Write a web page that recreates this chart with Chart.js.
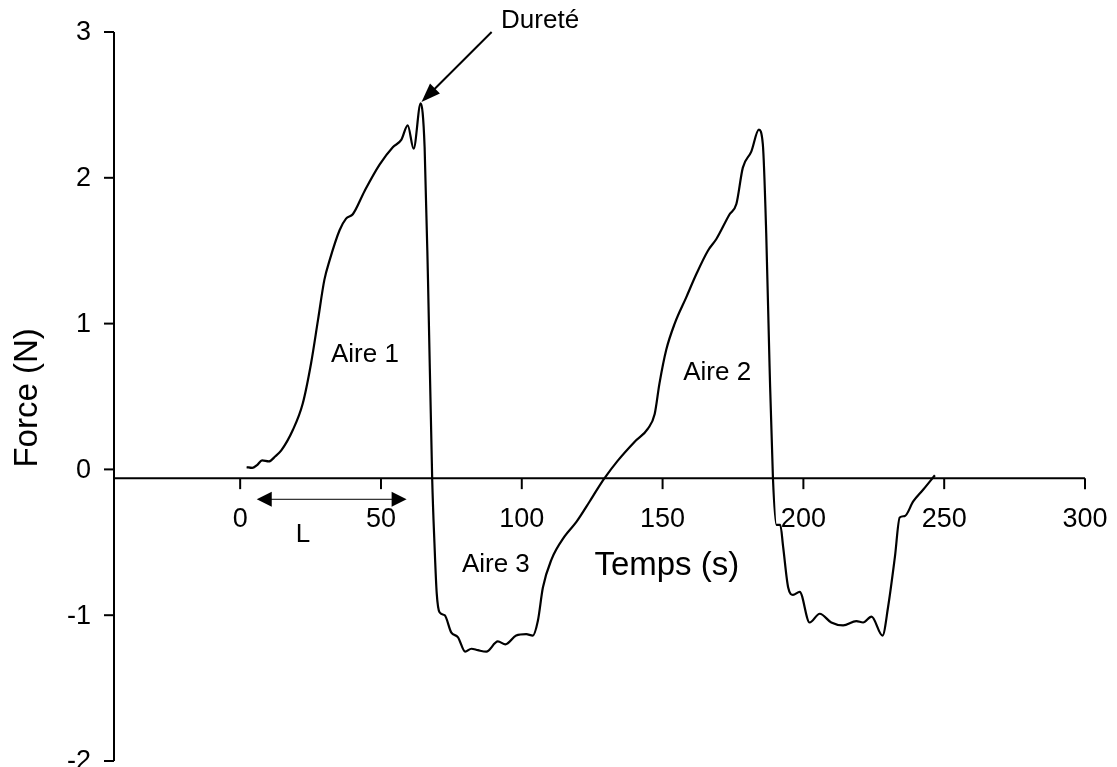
<!DOCTYPE html>
<html>
<head>
<meta charset="utf-8">
<script src="https://cdn.jsdelivr.net/npm/chart.js@4"></script>
<style>
  html, body { margin: 0; padding: 0; background: #fff; }
  #wrap { width: 1117px; height: 767px; }
</style>
</head>
<body>
<div id="wrap"><canvas id="chart"></canvas></div>
<script>
// courbe force / temps
const temps = [2.3, 4.3, 6, 7.8, 10.2, 12.5, 14.6, 18.7, 22.2, 25.2, 27.6, 29.9, 31.7, 35.3, 37.6, 40.0,
  44.2, 49.5, 54.2, 57.2, 59.5, 61.6, 64.1, 65.5, 66.7, 68.2, 69.0, 69.8, 70.8, 72.6, 75.0, 77.3,
  79.9, 82.1, 84.4, 87.4, 91.5, 94.2, 98.0, 101.6, 103.9, 105.7, 107.5, 110.5, 115.2, 119.4, 124.1,
  127.0, 129.4, 134.1, 140.1, 144.8, 147.2, 148.9, 151.3, 154.3, 158.4, 162, 166.1, 169.1, 173.8,
  176.2, 178.5, 181.5, 184.2, 185.6, 186.8, 188, 189.2, 190.4, 191.8, 192.8, 194.6, 196.3, 198.7,
  202.2, 205.8, 209.9, 214.1, 218.8, 221.2, 224.2, 228.1, 230.1, 232.5, 234.2, 236.0, 239.0, 242.5, 246.7];
const force = [0.016, 0.01, 0.03, 0.062, 0.055, 0.09, 0.13, 0.27, 0.45, 0.73, 1.02, 1.30, 1.43, 1.64, 1.72, 1.75,
  1.91, 2.09, 2.21, 2.26, 2.36, 2.20, 2.51, 2.21, 1.30, -0.075, -0.51, -0.85, -0.98, -1.00, -1.12, -1.15,
  -1.25, -1.23, -1.24, -1.25, -1.18, -1.20, -1.14, -1.13, -1.14, -1.04, -0.81, -0.62, -0.46, -0.36, -0.22,
  -0.13, -0.06, 0.06, 0.19, 0.28, 0.38, 0.59, 0.82, 1.0, 1.18, 1.34, 1.50, 1.58, 1.75,
  1.82, 2.07, 2.18, 2.33, 2.23, 1.62, 0.70, -0.064, -0.38, -0.38, -0.53, -0.81, -0.86, -0.84,
  -1.05, -0.99, -1.05, -1.07, -1.04, -1.05, -1.01, -1.14, -0.94, -0.60, -0.33, -0.32, -0.22, -0.14, -0.04];

const xTicks = [0, 50, 100, 150, 200, 250, 300];
const yTicks = [-2, -1, 0, 1, 2, 3];
const xAxisAt = -0.06;

const FONT = '"Liberation Sans", Arial, sans-serif';

function arrowHead(ctx, x1, y1, x2, y2, len, half) {
  const ang = Math.atan2(y2 - y1, x2 - x1);
  ctx.beginPath();
  ctx.moveTo(x2, y2);
  ctx.lineTo(x2 - len * Math.cos(ang) + half * Math.sin(ang), y2 - len * Math.sin(ang) - half * Math.cos(ang));
  ctx.lineTo(x2 - len * Math.cos(ang) - half * Math.sin(ang), y2 - len * Math.sin(ang) + half * Math.cos(ang));
  ctx.closePath();
  ctx.fill();
}

const axesPlugin = {
  id: 'axes',
  afterDraw(chart) {
    const { ctx, chartArea: a, scales: { x, y } } = chart;
    ctx.save();
    ctx.strokeStyle = '#000';
    ctx.fillStyle = '#000';
    ctx.lineWidth = 2;

    // axe vertical
    ctx.beginPath();
    ctx.moveTo(a.left, y.getPixelForValue(3));
    ctx.lineTo(a.left, y.getPixelForValue(-2));
    ctx.stroke();
    ctx.font = '27px ' + FONT;
    ctx.textAlign = 'right';
    ctx.textBaseline = 'middle';
    for (const t of yTicks) {
      const py = y.getPixelForValue(t);
      ctx.beginPath();
      ctx.moveTo(a.left - 10, py);
      ctx.lineTo(a.left, py);
      ctx.stroke();
      ctx.fillText(String(t), a.left - 23, py + 1);
    }

    // axe horizontal
    const ay = y.getPixelForValue(xAxisAt);
    ctx.beginPath();
    ctx.moveTo(a.left, ay);
    ctx.lineTo(x.getPixelForValue(300), ay);
    ctx.stroke();
    ctx.textAlign = 'center';
    for (const t of xTicks) {
      const px = x.getPixelForValue(t);
      ctx.beginPath();
      ctx.moveTo(px, ay);
      ctx.lineTo(px, ay + 11);
      ctx.stroke();
      ctx.fillText(String(t), px, ay + 41);
    }

    // titres
    ctx.font = '33px ' + FONT;
    ctx.fillText('Temps (s)', x.getPixelForValue(151.5), y.getPixelForValue(-0.66));
    ctx.save();
    ctx.translate(28, y.getPixelForValue(0.49));
    ctx.rotate(-Math.PI / 2);
    ctx.fillText('Force (N)', 0, 0);
    ctx.restore();

    // annotations
    ctx.font = '26px ' + FONT;
    ctx.fillText('Aire 1', x.getPixelForValue(44.3), y.getPixelForValue(0.785));
    ctx.fillText('Aire 2', x.getPixelForValue(169.4), y.getPixelForValue(0.66));
    ctx.fillText('Aire 3', x.getPixelForValue(90.8), y.getPixelForValue(-0.655));
    ctx.fillText('L', x.getPixelForValue(22.3), y.getPixelForValue(-0.45));
    ctx.fillText('Dureté', x.getPixelForValue(106.5), y.getPixelForValue(3.08));

    // flèche dureté
    const sx = x.getPixelForValue(89.3), sy = y.getPixelForValue(3.0);
    const ex = x.getPixelForValue(64.4), ey = y.getPixelForValue(2.52);
    ctx.lineWidth = 2;
    ctx.beginPath();
    ctx.moveTo(sx, sy);
    ctx.lineTo(ex + 8, ey - 8);
    ctx.stroke();
    arrowHead(ctx, sx, sy, ex, ey, 19, 7);

    // flèche double L
    const ly = y.getPixelForValue(-0.205);
    const lx1 = x.getPixelForValue(5.9), lx2 = x.getPixelForValue(59.1);
    ctx.lineWidth = 1;
    ctx.beginPath();
    ctx.moveTo(lx1 + 10, ly);
    ctx.lineTo(lx2 - 10, ly);
    ctx.stroke();
    arrowHead(ctx, lx2, ly, lx1, ly, 15, 7.5);
    arrowHead(ctx, lx1, ly, lx2, ly, 15, 7.5);

    ctx.restore();
  }
};

new Chart(document.getElementById('chart'), {
  type: 'scatter',
  data: {
    datasets: [{
      data: temps.map((t, i) => ({ x: t, y: force[i] })),
      showLine: true,
      borderColor: '#000',
      borderWidth: 2.2,
      pointRadius: 0,
      cubicInterpolationMode: 'monotone'
    }]
  },
  options: {
    responsive: true,
    maintainAspectRatio: false,
    animation: false,
    layout: { padding: { left: 114, top: 32, right: 32, bottom: 6 } },
    plugins: { legend: { display: false }, tooltip: { enabled: false } },
    scales: {
      x: { type: 'linear', display: false, min: -44.8, max: 300 },
      y: { type: 'linear', display: false, min: -2, max: 3 }
    }
  },
  plugins: [axesPlugin]
});
</script>
</body>
</html>
